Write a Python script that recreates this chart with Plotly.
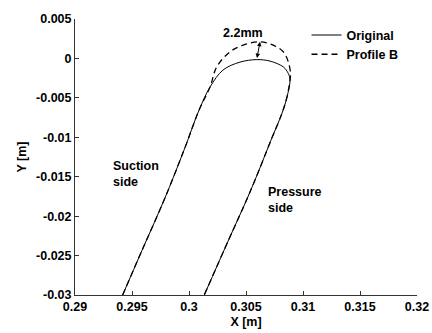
import plotly.graph_objects as go

# Original blade profile near the leading edge (suction side -> nose -> pressure side)
orig_x = [0.29418, 0.29588, 0.29781, 0.29956, 0.30088, 0.30184, 0.30298, 0.30447,
          0.30594, 0.30711, 0.30827, 0.30871, 0.30886, 0.30860, 0.30816, 0.30719,
          0.30614, 0.30504, 0.30354, 0.30134]
orig_y = [-0.0300, -0.02433, -0.01798, -0.01164, -0.00656, -0.00364, -0.00148, -0.00047,
          -0.00015, -0.00034, -0.00107, -0.00190, -0.00275, -0.00487, -0.00694, -0.01037,
          -0.01418, -0.01798, -0.02280, -0.0300]

# Modified profile B: thickened nose, identical to the original away from the leading edge
prof_x = [0.29418, 0.29588, 0.29781, 0.29956, 0.30088, 0.30184, 0.30243, 0.30360,
          0.30476, 0.30623, 0.30739, 0.30827, 0.30871, 0.30890, 0.30886, 0.30860,
          0.30816, 0.30719, 0.30614, 0.30504, 0.30354, 0.30134]
prof_y = [-0.0300, -0.02433, -0.01798, -0.01164, -0.00656, -0.00364, -0.00107, 0.00084,
          0.00169, 0.00211, 0.00169, 0.00084, -0.00043, -0.00190, -0.00275, -0.00487,
          -0.00694, -0.01037, -0.01418, -0.01798, -0.02280, -0.0300]

x_ticks = [0.29, 0.295, 0.30, 0.305, 0.31, 0.315, 0.32]
x_labels = ["0.29", "0.295", "0.3", "0.305", "0.31", "0.315", "0.32"]
y_ticks = [0.005, 0.0, -0.005, -0.01, -0.015, -0.02, -0.025, -0.03]
y_labels = ["0.005", "0", "-0.005", "-0.01", "-0.015", "-0.02", "-0.025", "-0.03"]

# Thickness increase at the nose, measured between the two peaks
gap_top = (0.30623, 0.00211)
gap_bottom = (0.30594, -0.00015)

FONT = "Liberation Sans, Arial, sans-serif"
bold = dict(family=FONT, size=12.5, color="black", weight="bold")

fig = go.Figure()
fig.add_trace(go.Scatter(x=orig_x, y=orig_y, mode="lines", name="Original",
                         line=dict(color="black", width=1), line_shape="spline"))
fig.add_trace(go.Scatter(x=prof_x, y=prof_y, mode="lines", name="Profile B",
                         line=dict(color="black", width=1.3, dash="6px,4px"),
                         line_shape="spline"))

fig.add_annotation(x=gap_top[0], y=gap_top[1], ax=gap_bottom[0], ay=gap_bottom[1],
                   xref="x", yref="y", axref="x", ayref="y", text="",
                   showarrow=True, arrowhead=2, startarrowhead=2, arrowside="end+start",
                   arrowsize=0.9, arrowwidth=1, arrowcolor="black")
fig.add_annotation(x=0.30474, y=0.00321, xref="x", yref="y", text="2.2mm",
                   showarrow=False, font=bold)
fig.add_annotation(x=0.29316, y=-0.0146, xref="x", yref="y", text="Suction<br>side",
                   showarrow=False, xanchor="left", align="left", font=bold)
fig.add_annotation(x=0.30675, y=-0.0180, xref="x", yref="y", text="Pressure<br>side",
                   showarrow=False, xanchor="left", align="left", font=bold)

axis_common = dict(showline=True, linecolor="#333", linewidth=1, ticks="inside",
                   ticklen=4, tickcolor="#333", showgrid=False, zeroline=False,
                   mirror=False, tickfont=bold, automargin=False)

fig.update_xaxes(range=[0.29, 0.32], tickvals=x_ticks, ticktext=x_labels,
                 ticklabelstandoff=0,
                 title=dict(text="X [m]", font=bold, standoff=4), **axis_common)
fig.update_yaxes(range=[-0.03, 0.005], tickvals=y_ticks, ticktext=y_labels,
                 title=dict(text="Y [m]", font=bold, standoff=6), **axis_common)

fig.update_layout(
    width=432, height=333,
    margin=dict(l=75, r=15, t=19, b=38),
    paper_bgcolor="white", plot_bgcolor="white",
    showlegend=True,
    legend=dict(x=0.677, y=0.995, xanchor="left", yanchor="top",
                bgcolor="rgba(0,0,0,0)", borderwidth=0, font=bold,
                tracegroupgap=0, itemwidth=30),
)

fig.write_html("out.html")
